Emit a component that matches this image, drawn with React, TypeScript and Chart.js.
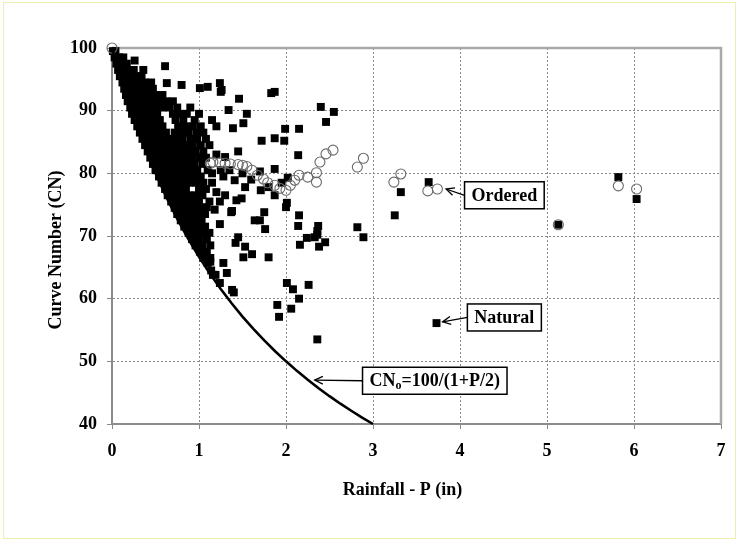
import React, { useEffect, useRef } from "react";
import { Chart, registerables } from "chart.js";

Chart.register(...registerables);

const X_TITLE = "Rainfall - P (in)";
const Y_TITLE = "Curve Number (CN)";
const X_MIN = 0;
const X_MAX = 7;
const Y_MIN = 40;
const Y_MAX = 100;

// CNo = 100/(1+P/2) boundary
const CURVE_P = [0, 0.125, 0.25, 0.375, 0.5, 0.625, 0.75, 0.875, 1, 1.125, 1.25, 1.375, 1.5, 1.625, 1.75, 1.875, 2, 2.125, 2.25, 2.375, 2.5, 2.625, 2.75, 2.875, 3];
const CURVE_CN = [100, 94.12, 88.89, 84.21, 80, 76.19, 72.73, 69.57, 66.67, 64, 61.54, 59.26, 57.14, 55.17, 53.33, 51.61, 50, 48.48, 47.06, 45.71, 44.44, 43.24, 42.11, 41.03, 40];

// Natural data (P, CN)
const NATURAL: [number, number][] = [
  [0.01, 99.5], [0.04, 99.5],
  [0.03, 98.5], [0.08, 98.5], [0.13, 98.5],
  [0.05, 97.5], [0.11, 97.5], [0.17, 97.5],
  [0.07, 96.5], [0.13, 96.5], [0.19, 96.5], [0.25, 96.5],
  [0.09, 95.5], [0.15, 95.5], [0.21, 95.5], [0.28, 95.5], [0.34, 95.5],
  [0.12, 94.5], [0.18, 94.5], [0.24, 94.5], [0.31, 94.5], [0.38, 94.5], [0.45, 94.5],
  [0.14, 93.5], [0.2, 93.5], [0.27, 93.5], [0.33, 93.5], [0.4, 93.5], [0.47, 93.5],
  [0.16, 92.5], [0.22, 92.5], [0.29, 92.5], [0.36, 92.5], [0.42, 92.5], [0.5, 92.5], [0.58, 92.5],
  [0.18, 91.5], [0.25, 91.5], [0.32, 91.5], [0.39, 91.5], [0.46, 91.5], [0.54, 91.5], [0.62, 91.5], [0.7, 91.5],
  [0.21, 90.5], [0.28, 90.5], [0.35, 90.5], [0.42, 90.5], [0.5, 90.5], [0.58, 90.5], [0.66, 90.5], [0.75, 90.5], [0.9, 90.5],
  [0.23, 89.5], [0.3, 89.5], [0.37, 89.5], [0.44, 89.5], [0.52, 89.5], [0.7, 89.5], [0.78, 89.5], [0.86, 89.5], [1.0, 89.5],
  [0.26, 88.5], [0.33, 88.5], [0.4, 88.5], [0.47, 88.5], [0.55, 88.5], [0.73, 88.5], [0.82, 88.5], [0.95, 88.5], [1.15, 88.5],
  [0.29, 87.5], [0.36, 87.5], [0.43, 87.5], [0.5, 87.5], [0.58, 87.5], [0.76, 87.5], [0.85, 87.5], [0.93, 87.5], [1.02, 87.5], [1.2, 87.5],
  [0.32, 86.5], [0.39, 86.5], [0.46, 86.5], [0.53, 86.5], [0.62, 86.5], [0.72, 86.5], [0.8, 86.5], [0.88, 86.5], [0.97, 86.5], [1.05, 86.5],
  [0.35, 85.5], [0.42, 85.5], [0.49, 85.5], [0.57, 85.5], [0.65, 85.5], [0.73, 85.5], [0.81, 85.5], [0.9, 85.5], [0.98, 85.5], [1.08, 85.5],
  [0.38, 84.5], [0.45, 84.5], [0.52, 84.5], [0.6, 84.5], [0.68, 84.5], [0.76, 84.5], [0.85, 84.5], [0.93, 84.5], [1.02, 84.5], [1.12, 84.5],
  [0.41, 83.5], [0.48, 83.5], [0.56, 83.5], [0.64, 83.5], [0.72, 83.5], [0.8, 83.5], [0.88, 83.5], [0.96, 83.5], [1.05, 83.5],
  [0.44, 82.5], [0.51, 82.5], [0.59, 82.5], [0.67, 82.5], [0.75, 82.5], [0.83, 82.5], [0.91, 82.5], [1.0, 82.5], [1.08, 82.5],
  [0.47, 81.5], [0.55, 81.5], [0.63, 81.5], [0.71, 81.5], [0.79, 81.5], [0.87, 81.5], [0.95, 81.5], [1.04, 81.5],
  [0.5, 80.5], [0.58, 80.5], [0.66, 80.5], [0.74, 80.5], [0.82, 80.5], [0.9, 80.5], [0.98, 80.5], [1.1, 80.5], [1.25, 80.5],
  [0.54, 79.5], [0.62, 79.5], [0.7, 79.5], [0.78, 79.5], [0.86, 79.5], [0.94, 79.5], [1.02, 79.5],
  [0.57, 78.5], [0.65, 78.5], [0.73, 78.5], [0.81, 78.5], [0.89, 78.5], [0.97, 78.5], [1.05, 78.5], [1.15, 78.5],
  [0.61, 77.5], [0.69, 77.5], [0.77, 77.5], [0.85, 77.5], [1.0, 77.5], [1.08, 77.5],
  [0.64, 76.5], [0.72, 76.5], [0.8, 76.5], [0.88, 76.5], [0.96, 76.5], [1.04, 76.5],
  [0.68, 75.5], [0.76, 75.5], [0.84, 75.5], [0.92, 75.5], [1.0, 75.5], [1.12, 75.5], [1.24, 75.5],
  [0.72, 74.5], [0.8, 74.5], [0.88, 74.5], [0.96, 74.5], [1.04, 74.5],
  [0.75, 73.5], [0.83, 73.5], [0.91, 73.5], [0.99, 73.5], [1.07, 73.5],
  [0.79, 72.5], [0.87, 72.5], [0.95, 72.5], [1.03, 72.5],
  [0.83, 71.5], [0.91, 71.5], [0.99, 71.5], [1.07, 71.5],
  [0.88, 70.5], [0.96, 70.5], [1.04, 70.5], [1.12, 70.5],
  [0.92, 69.5], [1.0, 69.5], [1.09, 69.5],
  [0.96, 68.5], [1.04, 68.5], [1.13, 68.5],
  [1.01, 67.5], [1.09, 67.5],
  [1.05, 66.5], [1.13, 66.5],
  [1.1, 65.7], [1.14, 64.5], [1.19, 63.8], [1.24, 62.5],
  [0.26, 98.0], [0.61, 97.1], [0.36, 96.5], [0.63, 94.4], [0.8, 94.1], [1.01, 93.6], [1.1, 93.8],
  [1.24, 94.4], [1.26, 93.3], [1.25, 93.0], [1.83, 92.8], [1.87, 93.0], [1.46, 91.9], [1.34, 90.1],
  [1.55, 89.5], [1.51, 88.0], [1.39, 87.2], [2.4, 90.6], [2.55, 89.8], [2.46, 88.2], [1.99, 87.1],
  [2.15, 87.1], [1.72, 85.2], [1.87, 85.6], [1.98, 85.2], [2.14, 82.9], [1.87, 80.7], [1.41, 78.9],
  [1.53, 77.8], [1.71, 77.3], [1.87, 76.5], [2.02, 79.3], [2.01, 75.3], [2.0, 74.6], [1.37, 73.8],
  [1.75, 73.8], [1.64, 72.5], [1.7, 72.5], [1.76, 71.1], [1.24, 71.9], [2.15, 73.3], [2.14, 71.6],
  [2.37, 71.6], [2.36, 70.8], [2.36, 70.2], [2.24, 69.7], [2.16, 68.6], [2.38, 68.3], [2.45, 69.0],
  [2.82, 71.4], [2.89, 69.8], [1.45, 69.8], [1.42, 68.9], [1.53, 68.3], [1.61, 67.1], [1.51, 66.6],
  [1.8, 66.6], [1.13, 65.9], [1.28, 65.7], [1.32, 64.1], [1.16, 63.8], [1.38, 61.4], [1.4, 61.0],
  [2.01, 62.5], [2.08, 61.5], [2.26, 62.2], [2.15, 60.0], [1.9, 59.0], [2.06, 58.4], [1.92, 57.1],
  [2.36, 53.5], [3.32, 77.0], [3.25, 73.3], [3.64, 78.6], [3.73, 56.1], [5.13, 71.8], [5.82, 79.4],
  [6.03, 75.9], [1.43, 75.7], [1.49, 76.0], [1.38, 74.0], [1.18, 74.2], [1.09, 74.6], [2.33, 69.8],
  [1.2, 83.0], [1.3, 82.6], [1.15, 80.0], [1.28, 79.5], [1.35, 80.5], [1.5, 80.0], [1.6, 79.0],
  [1.45, 83.5], [1.7, 80.3], [1.2, 77.0], [1.3, 76.5], [1.8, 77.8], [1.95, 78.5]
];

// Ordered data (P, CN)
const ORDERED: [number, number][] = [
  [0, 100], [1.13, 81.6], [1.16, 81.8], [1.24, 81.7], [1.3, 81.6], [1.36, 81.5], [1.45, 81.4],
  [1.5, 81.3], [1.55, 81.1], [1.61, 80.5], [1.67, 79.7], [1.74, 79.1], [1.79, 78.5], [1.87, 78.1],
  [1.93, 77.6], [2.0, 77.3], [2.05, 78.1], [2.1, 78.9], [2.15, 79.7], [2.25, 79.4], [2.35, 80.1],
  [2.35, 78.6], [2.39, 81.8], [2.46, 83.1], [2.54, 83.7], [2.82, 81.0], [2.89, 82.4], [3.24, 78.6],
  [3.32, 79.9], [3.63, 77.2], [3.74, 77.5], [5.13, 71.8], [5.82, 78.0], [6.03, 77.5]
];

// Callout labels: box centre and arrow tip in data units
const LABEL_TEXTS = ["Ordered", "Natural", "CN|o|=100/(1+P/2)"];
const LABEL_BOX_P = [4.51, 4.51, 3.71];
const LABEL_BOX_CN = [76.5, 57.0, 46.9];
const LABEL_TIP_P = [3.84, 3.8, 2.33];
const LABEL_TIP_CN = [77.5, 56.3, 47.0];

const FONT = "'Liberation Serif', 'Times New Roman', serif";

const decorPlugin = {
  id: "decor",
  beforeDraw(chart: any) {
    const ctx = chart.ctx;
    ctx.save();
    ctx.fillStyle = "#ffffff";
    ctx.fillRect(0, 0, chart.width, chart.height);
    ctx.strokeStyle = "#eeeeb0";
    ctx.lineWidth = 1;
    ctx.strokeRect(3.5, 2.5, chart.width - 6, chart.height - 6);
    ctx.restore();
  },
  beforeDatasetsDraw(chart: any) {
    const ctx = chart.ctx;
    const a = chart.chartArea;
    ctx.save();
    ctx.strokeStyle = "#a9a9a9";
    ctx.lineWidth = 2.5;
    ctx.beginPath();
    ctx.moveTo(a.left, a.top);
    ctx.lineTo(a.right, a.top);
    ctx.lineTo(a.right, a.bottom);
    ctx.stroke();
    ctx.restore();
  },
  afterDatasetsDraw(chart: any) {
    const ctx = chart.ctx;
    const xs = chart.scales.x;
    const ys = chart.scales.y;
    const a = chart.chartArea;
    ctx.save();
    ctx.fillStyle = "#000";
    ctx.textBaseline = "middle";
    // axis titles
    ctx.font = `bold 18px ${FONT}`;
    ctx.textAlign = "center";
    ctx.fillText(X_TITLE, (a.left + a.right) / 2 - 14, 490);
    ctx.save();
    ctx.translate(56, (a.top + a.bottom) / 2 + 14);
    ctx.rotate(-Math.PI / 2);
    ctx.fillText(Y_TITLE, 0, 0);
    ctx.restore();

    for (let i = 0; i < LABEL_TEXTS.length; i++) {
      const cx = xs.getPixelForValue(LABEL_BOX_P[i]);
      const cy = ys.getPixelForValue(LABEL_BOX_CN[i]);
      const tx = xs.getPixelForValue(LABEL_TIP_P[i]);
      const ty = ys.getPixelForValue(LABEL_TIP_CN[i]);
      const parts = LABEL_TEXTS[i].split("|");
      const fonts = parts.map((_, k) => (k % 2 === 1 ? `bold 12px ${FONT}` : `bold 18px ${FONT}`));
      const widths = parts.map((p, k) => {
        ctx.font = fonts[k];
        return ctx.measureText(p).width;
      });
      const tw = widths.reduce((s, w) => s + w, 0);
      const bw = tw + 14;
      const bh = 27;
      const bl = cx - bw / 2;
      const bt = cy - bh / 2;
      ctx.fillStyle = "#fff";
      ctx.fillRect(bl, bt, bw, bh);
      ctx.strokeStyle = "#000";
      ctx.lineWidth = 1.5;
      ctx.strokeRect(bl, bt, bw, bh);
      ctx.fillStyle = "#000";
      ctx.textAlign = "left";
      let x = cx - tw / 2;
      parts.forEach((p, k) => {
        ctx.font = fonts[k];
        ctx.fillText(p, x, k % 2 === 1 ? cy + 5 : cy + 1);
        x += widths[k];
      });
      // arrow
      const sx = bl;
      const sy = cy;
      ctx.lineWidth = 1.3;
      ctx.beginPath();
      ctx.moveTo(sx, sy);
      ctx.lineTo(tx, ty);
      ctx.stroke();
      const ang = Math.atan2(ty - sy, tx - sx);
      const L = 9;
      ctx.beginPath();
      ctx.moveTo(tx - L * Math.cos(ang - 0.45), ty - L * Math.sin(ang - 0.45));
      ctx.lineTo(tx, ty);
      ctx.lineTo(tx - L * Math.cos(ang + 0.45), ty - L * Math.sin(ang + 0.45));
      ctx.stroke();
    }
    ctx.restore();
  },
};

export default function App() {
  const ref = useRef<HTMLCanvasElement | null>(null);
  useEffect(() => {
    if (!ref.current) return;
    const chart = new Chart(ref.current, {
      type: "scatter",
      data: {
        datasets: [
          {
            type: "line",
            label: "CNo",
            data: CURVE_P.map((p, i) => ({ x: p, y: CURVE_CN[i] })),
            borderColor: "#000",
            borderWidth: 2.6,
            pointRadius: 0,
            fill: false,
            tension: 0,
            clip: false,
          } as any,
          {
            label: "Ordered",
            data: ORDERED.map(([x, y]) => ({ x, y })),
            pointStyle: "circle",
            pointRadius: 5,
            backgroundColor: "rgba(255,255,255,0)",
            borderColor: "#6a6a6a",
            borderWidth: 1.1,
            clip: false,
          } as any,
          {
            label: "Natural",
            data: NATURAL.map(([x, y]) => ({ x, y })),
            pointStyle: "rect",
            pointRadius: 5.6,
            backgroundColor: "#000",
            borderColor: "#000",
            borderWidth: 0,
            clip: false,
          } as any,
        ],
      },
      options: {
        animation: false,
        responsive: false,
        maintainAspectRatio: false,
        layout: { padding: { left: 0, right: 17, top: 48, bottom: 0 } },
        plugins: { legend: { display: false }, tooltip: { enabled: false }, title: { display: false } },
        scales: {
          x: {
            type: "linear",
            min: X_MIN,
            max: X_MAX,
            ticks: { stepSize: 1, color: "#000", font: { family: FONT, size: 18, weight: "bold" }, padding: 12, maxRotation: 0 },
            grid: {
              color: "#8a8a8a",
              lineWidth: 1,
              tickColor: "#8a8a8a",
              tickLength: 5,
              tickBorderDash: [],
            },
            border: { display: true, color: "#8c8c8c", width: 2, dash: [2, 2] },
            afterFit: (s: any) => {
              s.height = 118;
            },
          } as any,
          y: {
            type: "linear",
            min: Y_MIN,
            max: Y_MAX,
            ticks: { stepSize: 10, color: "#000", font: { family: FONT, size: 18, weight: "bold" }, padding: 10 },
            grid: {
              color: "#8a8a8a",
              lineWidth: 1,
              tickColor: "#8a8a8a",
              tickLength: 5,
            },
            border: { display: true, color: "#8c8c8c", width: 2, dash: [2, 2] },
            afterFit: (s: any) => {
              s.width = 112;
            },
          } as any,
        },
      },
      plugins: [decorPlugin],
    });
    return () => chart.destroy();
  }, []);
  return (
    <div style={{ position: "absolute", left: 0, top: 0, width: 738, height: 542 }}>
      <canvas ref={ref} width={738} height={542} style={{ width: 738, height: 542 }} />
    </div>
  );
}
